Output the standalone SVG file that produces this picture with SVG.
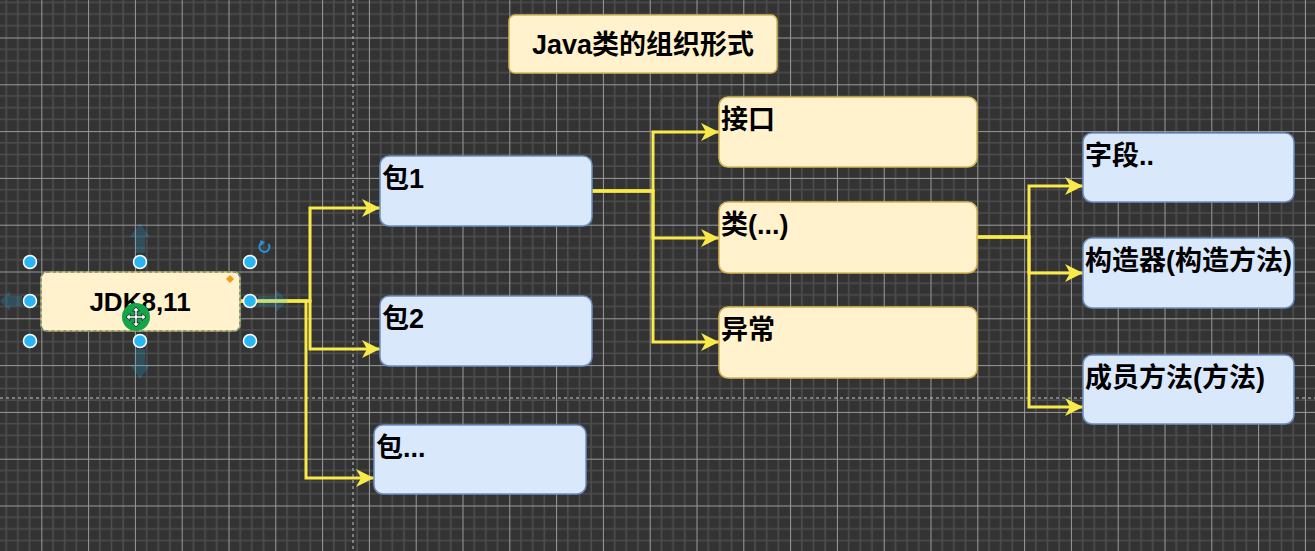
<svg xmlns="http://www.w3.org/2000/svg" width="1315" height="551" viewBox="0 0 1315 551">
<style>
.yb{fill:#fff2cc;stroke:#d6b656;stroke-width:1.5}
.bb{fill:#dae8fc;stroke:#6c8ebf;stroke-width:1.5}
.t{font-family:"Liberation Sans","Noto Sans CJK SC",sans-serif;font-weight:bold;font-size:27px;fill:#000}
.edge{fill:none;stroke:#f7ea4a;stroke-width:3}
.h{fill:#29b6f2;stroke:#fff;stroke-width:1.5}
.hover{fill:#29b6f2;opacity:0.22}
.pg{stroke:#c8c8c8;stroke-width:1;stroke-dasharray:3 3}
</style>
<defs>
<pattern id="grid" patternUnits="userSpaceOnUse" x="41.3" y="37.5" width="46.8" height="46.8">
<rect width="46.8" height="46.8" fill="#333333"/>
<path d="M11.7 0V46.8M23.4 0V46.8M35.1 0V46.8M0 11.7H46.8M0 23.4H46.8M0 35.1H46.8" stroke="#4d4d4d" stroke-width="1.6"/>
<path d="M0.5 0V46.8M0 0.5H46.8" stroke="#9a9a9a" stroke-width="1"/>
</pattern>
<marker id="arr" markerUnits="userSpaceOnUse" markerWidth="18" markerHeight="18" refX="18" refY="9" orient="auto" viewBox="0 0 18 18">
<path d="M0 0L18 9L0 18L5 9Z" fill="#f7ea4a"/>
</marker>
</defs>
<rect width="1315" height="551" fill="url(#grid)"/>
<path class="pg" d="M353 0V551"/>
<path class="pg" d="M0 398H1315"/>

<g id="connectors">
<path class="edge" marker-end="url(#arr)" d="M240 301H310V208H380"/>
<path class="edge" marker-end="url(#arr)" d="M240 301H310V349H380"/>
<path class="edge" marker-end="url(#arr)" d="M240 301H306V478H374"/>
<path class="edge" marker-end="url(#arr)" d="M592 191H653V132H719"/>
<path class="edge" marker-end="url(#arr)" d="M592 191H653V238H719"/>
<path class="edge" marker-end="url(#arr)" d="M592 191H653V342H719"/>
<path class="edge" marker-end="url(#arr)" d="M977 237H1029V186H1083"/>
<path class="edge" marker-end="url(#arr)" d="M977 237H1029V273H1083"/>
<path class="edge" marker-end="url(#arr)" d="M977 237H1029V407H1083"/>
</g>

<g id="title">
<rect class="yb" x="509" y="15" width="268" height="58" rx="6"/>
<text class="t" x="643" y="54" text-anchor="middle">Java类的组织形式</text>
</g>

<g id="pkg1"><rect class="bb" x="380" y="156" width="212" height="70" rx="9"/><text class="t" x="382" y="188">包1</text></g>
<g id="pkg2"><rect class="bb" x="380" y="296" width="212" height="70" rx="9"/><text class="t" x="382" y="328">包2</text></g>
<g id="pkg3"><rect class="bb" x="374" y="425" width="212" height="69" rx="9"/><text class="t" x="376" y="457">包...</text></g>

<g id="iface"><rect class="yb" x="719" y="97" width="258" height="70" rx="9"/><text class="t" x="721" y="129">接口</text></g>
<g id="cls"><rect class="yb" x="719" y="202" width="258" height="71" rx="9"/><text class="t" x="721" y="234">类(...)</text></g>
<g id="exc"><rect class="yb" x="719" y="307" width="258" height="71" rx="9"/><text class="t" x="721" y="339">异常</text></g>

<g id="field"><rect class="bb" x="1083" y="133" width="211" height="69" rx="9"/><text class="t" x="1085" y="165">字段..</text></g>
<g id="ctor"><rect class="bb" x="1083" y="238" width="211" height="70" rx="9"/><text class="t" x="1085" y="270">构造器(构造方法)</text></g>
<g id="method"><rect class="bb" x="1083" y="355" width="211" height="69" rx="9"/><text class="t" x="1085" y="387">成员方法(方法)</text></g>

<g id="jdk">
<rect class="yb" x="41" y="272" width="199" height="59" rx="6"/>
<rect x="41" y="272" width="199" height="59" rx="6" fill="none" stroke="#2d7fb8" stroke-width="1.2" stroke-dasharray="3 3"/>
<text class="t" x="140" y="311" text-anchor="middle" style="font-size:26px">JDK8,11</text>
</g>

<g id="selection-ui">
<path class="hover" d="M140 223L150 237H145V253H135V237H130Z"/>
<path class="hover" d="M140 379L150 365H145V349H135V365H130Z"/>
<path class="hover" d="M0 296H12V291L22 301L12 311V306H0Z" transform="rotate(180 11 301)"/>
<path class="hover" d="M258 296H276V290L288 301L276 312V306H258Z"/>
<circle class="h" cx="30" cy="262" r="6.5"/>
<circle class="h" cx="140" cy="262" r="6.5"/>
<circle class="h" cx="250" cy="262" r="6.5"/>
<circle class="h" cx="30" cy="301" r="6.5"/>
<circle class="h" cx="250" cy="301" r="6.5"/>
<circle class="h" cx="30" cy="341" r="6.5"/>
<circle class="h" cx="140" cy="341" r="6.5"/>
<circle class="h" cx="250" cy="341" r="6.5"/>
<path d="M230 275L234 279L230 283L226 279Z" fill="#f39c12"/>
<path d="M268.5 244A5 5 0 1 1 262 242.5" fill="none" stroke="#2a8fd6" stroke-width="2"/>
<path d="M260 240L265 242L261 246Z" fill="#2a8fd6"/>
<circle cx="136" cy="317" r="14" fill="#14a44a"/>
<path d="M136 307L139.5 311H137.2V315.8H142V313.5L146 317L142 320.5V318.2H137.2V323H139.5L136 327L132.5 323H134.8V318.2H130V320.5L126 317L130 313.5V315.8H134.8V311H132.5Z" fill="#fff" stroke="#000" stroke-width="0.7"/>
</g>
</svg>
